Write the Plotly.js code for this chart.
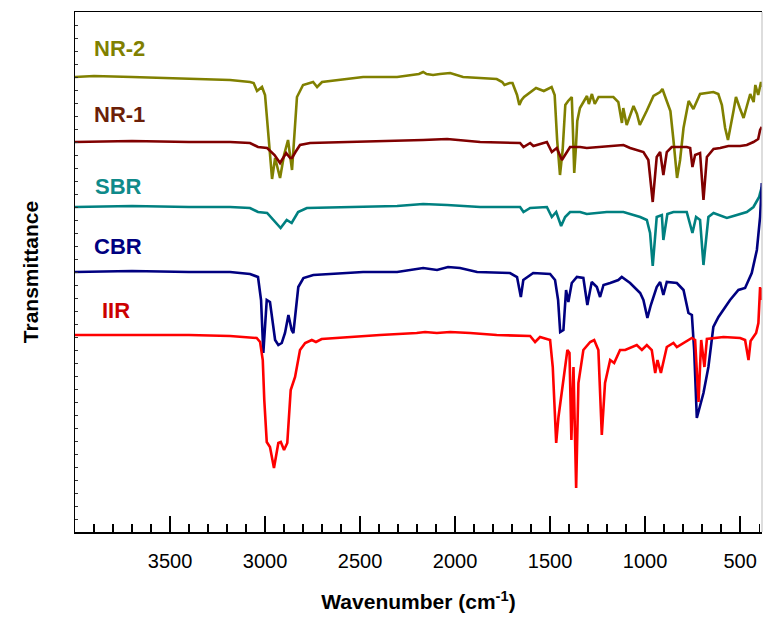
<!DOCTYPE html>
<html>
<head>
<meta charset="utf-8">
<script src="https://cdn.plot.ly/plotly-3.0.1.min.js"></script>
<style>html,body{margin:0;padding:0;background:#fff;}#chart{width:764px;height:621px;}</style>
</head>
<body>
<div id="chart"></div>
<script>
// Series names and colours
const seriesNames = ["NR-2", "NR-1", "SBR", "CBR", "IIR"];
const lineColors = ["#808000", "#800000", "#008080", "#000080", "#ff0000"];
const labelColors = ["#808000", "#6b1f08", "#0f8a8a", "#000080", "#cc0000"];

// Wavenumber (cm-1) and transmittance (a.u., stacked)
const nr2Wn = [4000,3900,3700,3500,3300,3184,3079,3060,3042,3016,3000,2989,2975,2963,2947,2935,2921,2900,2879,2858,2845,2832,2800,2747,2726,2700,2484,2305,2190,2168,2150,2116,2080,2026,1958,1781,1752,1740,1713,1698,1674,1662,1650,1637,1574,1533,1492,1476,1463,1448,1434,1420,1405,1386,1380,1373,1365,1357,1343,1306,1296,1280,1265,1245,1167,1141,1122,1115,1097,1061,1043,1028,992,956,921,909,894,867,851,832,816,798,771,746,711,641,615,596,579,564,535,522,502,482,447,429,420,405,390,386];
const nr2T  = [455,456,455,454,453,452,450,449,441,445,437,412,372,353,374,364,354,377,392,362,402,435,447,450,445,450,455,455,458,460,458,457,458,459,455,453,450,447,449,449,437,427,432,435,444,441,445,437,392,357,382,427,431,435,402,359,382,411,424,436,428,438,428,435,435,430,409,424,407,426,418,407,421,436,440,443,435,421,392,354,372,404,431,423,438,440,438,427,404,392,421,435,424,414,438,430,447,437,450,445];

const nr1Wn = [4000,3700,3400,3184,3079,3053,3037,2989,2950,2921,2889,2868,2858,2840,2816,2763,2500,2305,2168,2042,1868,1658,1640,1605,1588,1517,1491,1465,1438,1395,1342,1307,1202,1114,1079,1044,1009,983,960,939,921,904,886,860,781,763,751,737,711,693,675,640,605,562,500,465,430,405,395,386];
const nr1T  = [390,391,390,390,389,387,385,384,377,369,379,374,374,380,387,389,390,391,392,393,390,389,385,389,386,390,380,384,372,385,385,384,386,387,384,382,380,372,330,375,380,357,380,385,385,384,365,377,379,332,375,383,384,386,386,387,390,393,402,405];

const sbrWn = [4000,3700,3400,3184,3079,3037,2989,2947,2918,2886,2860,2826,2780,2305,2168,2042,1868,1658,1640,1605,1517,1491,1468,1442,1421,1395,1342,1307,1202,1114,1079,1026,991,974,960,947,939,912,904,883,851,781,751,732,711,693,667,640,570,535,465,430,400,395,386];
const sbrT  = [325,326,325,325,324,320,319,310,304,312,309,320,324,326,328,327,325,325,320,324,325,315,320,306,315,320,320,318,320,320,318,315,312,299,266,299,315,317,292,318,320,320,299,315,312,267,315,319,314,316,320,325,335,339,345];

const cbrWn = [4000,3700,3400,3184,3079,3053,3037,3021,3009,2991,2974,2947,2930,2912,2895,2877,2860,2851,2825,2798,2746,2658,2484,2305,2168,2095,2037,1974,1884,1711,1674,1654,1641,1589,1500,1474,1458,1447,1430,1416,1404,1386,1359,1325,1304,1281,1254,1237,1219,1184,1141,1123,1079,1026,1009,988,970,939,921,904,886,833,798,772,754,742,728,693,667,641,614,553,509,474,439,412,395,386];
const cbrT  = [260,261,260,260,258,256,255,232,179,232,230,192,187,189,199,217,202,199,245,254,257,258,260,260,264,262,265,264,260,259,255,235,252,259,258,252,232,200,202,242,230,249,255,254,227,250,245,235,247,249,252,255,249,239,232,214,227,245,250,237,250,249,242,219,217,182,114,139,165,205,215,232,242,244,259,282,315,349];

const iirWn = [4000,3700,3400,3184,3079,3044,3026,3012,3004,2991,2974,2953,2930,2917,2900,2883,2865,2842,2816,2789,2754,2732,2702,2570,2395,2202,2158,2096,2026,1921,1781,1605,1579,1553,1500,1486,1468,1456,1430,1409,1398,1388,1377,1363,1351,1325,1289,1268,1246,1228,1211,1184,1163,1132,1105,1044,1017,991,965,947,935,917,886,851,833,789,754,737,719,705,688,675,588,500,474,456,445,416,404,395,390,386];
const iirT  = [197,197,197,196,195,194,190,172,132,90,85,64,89,90,82,89,142,155,182,189,192,190,193,195,197,199,200,199,200,199,197,196,190,195,192,165,89,115,155,182,179,92,165,44,149,182,190,192,182,97,149,172,169,182,182,187,182,187,182,159,172,159,185,189,185,190,194,192,130,192,165,193,195,194,192,172,191,199,209,245,232,244];

// Label anchor positions (wavenumber, transmittance)
const labelWn = [3910, 3910, 3905, 3910, 3870];
const labelT  = [484, 418, 346, 286, 222];

// Axis ticks
const xTickValues = [3500, 3000, 2500, 2000, 1500, 1000, 500];
const xTickText = ["3500", "3000", "2500", "2000", "1500", "1000", "500"];

const wnSets = [nr2Wn, nr1Wn, sbrWn, cbrWn, iirWn];
const tSets = [nr2T, nr1T, sbrT, cbrT, iirT];

const traces = seriesNames.map((name, i) => ({
  type: "scatter",
  mode: "lines",
  name: name,
  x: wnSets[i],
  y: tSets[i],
  line: {color: lineColors[i], width: 2.6},
  hoverinfo: "skip"
}));

const font = "Liberation Sans, Arial, sans-serif";

const annotations = seriesNames.map((name, i) => ({
  x: labelWn[i], y: labelT[i], xref: "x", yref: "y",
  text: "<b>" + name + "</b>",
  showarrow: false, xanchor: "left", yanchor: "middle",
  font: {family: font, size: 22, color: labelColors[i]}
}));

const layout = {
  width: 764, height: 621,
  margin: {l: 75, r: 2, t: 12, b: 89},
  paper_bgcolor: "#ffffff", plot_bgcolor: "#ffffff",
  showlegend: false,
  xaxis: {
    range: [4000, 385],
    tickmode: "array", tickvals: xTickValues, ticktext: xTickText,
    ticks: "inside", ticklen: 16, tickwidth: 1.5, tickcolor: "#000",
    minor: {tickmode: "linear", tick0: 0, dtick: 100, ticks: "inside", ticklen: 8, tickwidth: 1.3, tickcolor: "#000"},
    showline: true, linecolor: "#000", linewidth: 1.5, mirror: true,
    showgrid: false, zeroline: false,
    tickfont: {family: font, size: 20, color: "#000"},
    ticklabelstandoff: 10,
    title: {text: "<b>Wavenumber (cm<sup>-1</sup>)</b>", font: {family: font, size: 21, color: "#000"}, standoff: 24}
  },
  yaxis: {
    range: [0, 520],
    tickmode: "linear", tick0: 0, dtick: 13,
    ticks: "inside", ticklen: 3, tickwidth: 1, tickcolor: "#333",
    showticklabels: false,
    showline: true, linecolor: "#000", linewidth: 1.5,
    showgrid: false, zeroline: false,
    title: {text: "<b>Transmittance</b>", font: {family: font, size: 21, color: "#000"}, standoff: 29}
  },
  shapes: [{type: "line", xref: "paper", yref: "paper", x0: 1, x1: 1, y0: 0, y1: 1, line: {color: "#bbbbbb", width: 1}}],
  annotations: annotations
};

Plotly.newPlot("chart", traces, layout, {staticPlot: true, displayModeBar: false});
</script>
</body>
</html>
